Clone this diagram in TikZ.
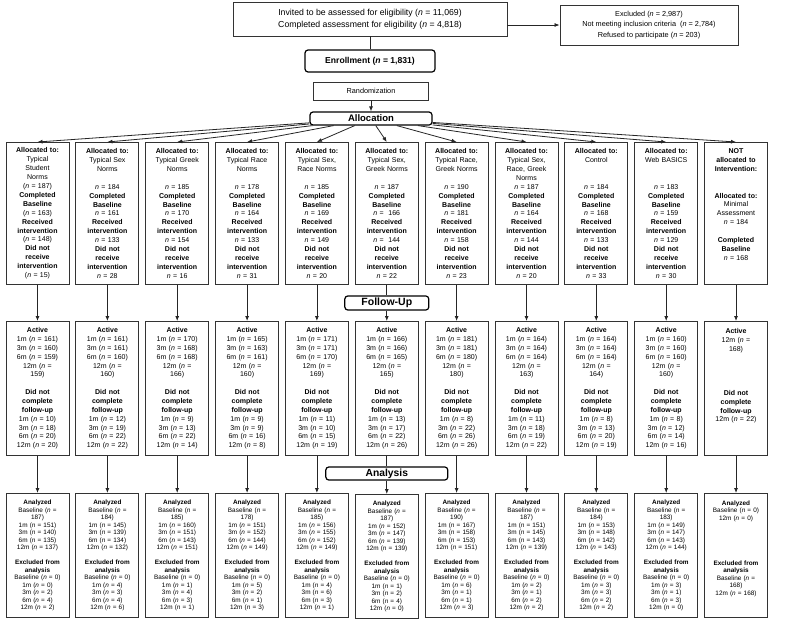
\documentclass[tikz,border=0pt]{standalone}
\usepackage{fontspec}
\setmainfont{Liberation Sans}
\usetikzlibrary{arrows.meta}
\newcommand{\nv}{\textit{n}}
\tikzset{
  cbox/.style={draw=black!80,line width=0.9pt,align=center,inner sep=1pt},
  stagebox/.style={draw=black,line width=1.2pt,rounded corners=3pt,align=center,inner sep=1pt},
  groupbox/.style={cbox,anchor=north,text width=61pt,minimum height=142pt,font=\fontsize{7}{8.9}\selectfont},
  followbox/.style={cbox,anchor=north,text width=61pt,minimum height=134pt,font=\fontsize{7}{8.85}\selectfont},
  resultbox/.style={cbox,anchor=north,text width=61pt,minimum height=124pt,font=\fontsize{6.4}{7.5}\selectfont},
  conn/.style={line width=0.8pt,draw=black!85},
}
\begin{document}
\begin{tikzpicture}[x=1pt,y=-1pt,>={Latex[length=5pt,width=4pt]}]
  \useasboundingbox[fill=white] (0,0) rectangle (800,624);
  \node[cbox,minimum width=274pt,minimum height=34pt,font=\fontsize{8.7}{12}\selectfont] (invite) at (370,19) {Invited to be assessed for eligibility (\nv{} = 11,069)\\Completed assessment for eligibility (\nv{} = 4,818)};
  \node[cbox,minimum width=178pt,minimum height=40pt,font=\fontsize{7.3}{10.5}\selectfont] (excl) at (649,25) {Excluded (\nv{} = 2,987)\\Not meeting inclusion criteria\ \ (\nv{} = 2,784)\\Refused to participate (\nv{} = 203)};
  \node[stagebox,minimum width=130pt,minimum height=22pt,font=\bfseries\fontsize{8.6}{10}\selectfont] (enrol) at (370,61) {Enrollment (\nv{} = 1,831)};
  \node[cbox,minimum width=115pt,minimum height=18pt,font=\fontsize{7.3}{9}\selectfont] (rand) at (371,91) {Randomization};
  \node[stagebox,minimum width=122pt,minimum height=13pt,font=\bfseries\fontsize{9.5}{10}\selectfont] (alloc) at (371,118.5) {Allocation};

  \node[groupbox] (a1) at (37.5,142) {\textbf{Allocated to:}\\Typical\\Student\\Norms\\(\nv{} = 187)\\\textbf{Completed}\\\textbf{Baseline}\\(\nv{} = 163)\\\textbf{Received}\\\textbf{intervention}\\(\nv{} = 148)\\\textbf{Did not}\\\textbf{receive}\\\textbf{intervention}\\(\nv{} = 15)};
  \node[groupbox] (a2) at (107.4,142) {\textbf{Allocated to:}\\Typical Sex\\Norms\\~\\\nv{} = 184\\\textbf{Completed}\\\textbf{Baseline}\\\nv{} = 161\\\textbf{Received}\\\textbf{intervention}\\\nv{} = 133\\\textbf{Did not}\\\textbf{receive}\\\textbf{intervention}\\\nv{} = 28};
  \node[groupbox] (a3) at (177.2,142) {\textbf{Allocated to:}\\Typical Greek\\Norms\\~\\\nv{} = 185\\\textbf{Completed}\\\textbf{Baseline}\\\nv{} = 170\\\textbf{Received}\\\textbf{intervention}\\\nv{} = 154\\\textbf{Did not}\\\textbf{receive}\\\textbf{intervention}\\\nv{} = 16};
  \node[groupbox] (a4) at (247.1,142) {\textbf{Allocated to:}\\Typical Race\\Norms\\~\\\nv{} = 178\\\textbf{Completed}\\\textbf{Baseline}\\\nv{} = 164\\\textbf{Received}\\\textbf{intervention}\\\nv{} = 133\\\textbf{Did not}\\\textbf{receive}\\\textbf{intervention}\\\nv{} = 31};
  \node[groupbox] (a5) at (316.9,142) {\textbf{Allocated to:}\\Typical Sex,\\Race Norms\\~\\\nv{} = 185\\\textbf{Completed}\\\textbf{Baseline}\\\nv{} = 169\\\textbf{Received}\\\textbf{intervention}\\\nv{} = 149\\\textbf{Did not}\\\textbf{receive}\\\textbf{intervention}\\\nv{} = 20};
  \node[groupbox] (a6) at (386.8,142) {\textbf{Allocated to:}\\Typical Sex,\\Greek Norms\\~\\\nv{} = 187\\\textbf{Completed}\\\textbf{Baseline}\\\nv{} = \ 166\\\textbf{Received}\\\textbf{intervention}\\\nv{} = \ 144\\\textbf{Did not}\\\textbf{receive}\\\textbf{intervention}\\\nv{} = 22};
  \node[groupbox] (a7) at (456.6,142) {\textbf{Allocated to:}\\Typical Race,\\Greek Norms\\~\\\nv{} = 190\\\textbf{Completed}\\\textbf{Baseline}\\\nv{} = 181\\\textbf{Received}\\\textbf{intervention}\\\nv{} = 158\\\textbf{Did not}\\\textbf{receive}\\\textbf{intervention}\\\nv{} = 23};
  \node[groupbox] (a8) at (526.5,142) {\textbf{Allocated to:}\\Typical Sex,\\Race, Greek\\Norms\\\nv{} = 187\\\textbf{Completed}\\\textbf{Baseline}\\\nv{} = 164\\\textbf{Received}\\\textbf{intervention}\\\nv{} = 144\\\textbf{Did not}\\\textbf{receive}\\\textbf{intervention}\\\nv{} = 20};
  \node[groupbox] (a9) at (596.3,142) {\textbf{Allocated to:}\\Control\\~\\~\\\nv{} = 184\\\textbf{Completed}\\\textbf{Baseline}\\\nv{} = 168\\\textbf{Received}\\\textbf{intervention}\\\nv{} = 133\\\textbf{Did not}\\\textbf{receive}\\\textbf{intervention}\\\nv{} = 33};
  \node[groupbox] (a10) at (666.2,142) {\textbf{Allocated to:}\\Web BASICS\\~\\~\\\nv{} = 183\\\textbf{Completed}\\\textbf{Baseline}\\\nv{} = 159\\\textbf{Received}\\\textbf{intervention}\\\nv{} = 129\\\textbf{Did not}\\\textbf{receive}\\\textbf{intervention}\\\nv{} = 30};
  \node[groupbox] (a11) at (736,142) {\textbf{NOT}\\\textbf{allocated to}\\\textbf{Intervention:}\\~\\~\\\textbf{Allocated to:}\\Minimal\\Assessment\\\nv{} = 184\\~\\\textbf{Completed}\\\textbf{Baseline}\\\nv{} = 168\\~\\~};

  \node[stagebox,minimum width=84pt,minimum height=14pt,font=\bfseries\fontsize{10.5}{11}\selectfont] (fu) at (386.8,303) {Follow-Up};

  \node[followbox] (f1) at (37.5,321) {\textbf{Active}\\1m (\nv{} = 161)\\3m (\nv{} = 160)\\6m (\nv{} = 159)\\12m (\nv{} =\\159)\\~\\\textbf{Did not}\\\textbf{complete}\\\textbf{follow-up}\\1m (\nv{} = 10)\\3m (\nv{} = 18)\\6m (\nv{} = 20)\\12m (\nv{} = 20)};
  \node[followbox] (f2) at (107.4,321) {\textbf{Active}\\1m (\nv{} = 161)\\3m (\nv{} = 161)\\6m (\nv{} = 160)\\12m (\nv{} =\\160)\\~\\\textbf{Did not}\\\textbf{complete}\\\textbf{follow-up}\\1m (\nv{} = 12)\\3m (\nv{} = 19)\\6m (\nv{} = 22)\\12m (\nv{} = 22)};
  \node[followbox] (f3) at (177.2,321) {\textbf{Active}\\1m (\nv{} = 170)\\3m (\nv{} = 168)\\6m (\nv{} = 168)\\12m (\nv{} =\\166)\\~\\\textbf{Did not}\\\textbf{complete}\\\textbf{follow-up}\\1m (\nv{} = 9)\\3m (\nv{} = 13)\\6m (\nv{} = 22)\\12m (\nv{} = 14)};
  \node[followbox] (f4) at (247.1,321) {\textbf{Active}\\1m (\nv{} = 165)\\3m (\nv{} = 163)\\6m (\nv{} = 161)\\12m (\nv{} =\\160)\\~\\\textbf{Did not}\\\textbf{complete}\\\textbf{follow-up}\\1m (\nv{} = 9)\\3m (\nv{} = 9)\\6m (\nv{} = 16)\\12m (\nv{} = 8)};
  \node[followbox] (f5) at (316.9,321) {\textbf{Active}\\1m (\nv{} = 171)\\3m (\nv{} = 171)\\6m (\nv{} = 170)\\12m (\nv{} =\\169)\\~\\\textbf{Did not}\\\textbf{complete}\\\textbf{follow-up}\\1m (\nv{} = 11)\\3m (\nv{} = 10)\\6m (\nv{} = 15)\\12m (\nv{} = 19)};
  \node[followbox] (f6) at (386.8,321) {\textbf{Active}\\1m (\nv{} = 166)\\3m (\nv{} = 166)\\6m (\nv{} = 165)\\12m (\nv{} =\\165)\\~\\\textbf{Did not}\\\textbf{complete}\\\textbf{follow-up}\\1m (\nv{} = 13)\\3m (\nv{} = 17)\\6m (\nv{} = 22)\\12m (\nv{} = 26)};
  \node[followbox] (f7) at (456.6,321) {\textbf{Active}\\1m (\nv{} = 181)\\3m (\nv{} = 181)\\6m (\nv{} = 180)\\12m (\nv{} =\\180)\\~\\\textbf{Did not}\\\textbf{complete}\\\textbf{follow-up}\\1m (\nv{} = 8)\\3m (\nv{} = 22)\\6m (\nv{} = 26)\\12m (\nv{} = 26)};
  \node[followbox] (f8) at (526.5,321) {\textbf{Active}\\1m (\nv{} = 164)\\3m (\nv{} = 164)\\6m (\nv{} = 164)\\12m (\nv{} =\\163)\\~\\\textbf{Did not}\\\textbf{complete}\\\textbf{follow-up}\\1m (\nv{} = 11)\\3m (\nv{} = 18)\\6m (\nv{} = 19)\\12m (\nv{} = 22)};
  \node[followbox] (f9) at (596.3,321) {\textbf{Active}\\1m (\nv{} = 164)\\3m (\nv{} = 164)\\6m (\nv{} = 164)\\12m (\nv{} =\\164)\\~\\\textbf{Did not}\\\textbf{complete}\\\textbf{follow-up}\\1m (\nv{} = 8)\\3m (\nv{} = 13)\\6m (\nv{} = 20)\\12m (\nv{} = 19)};
  \node[followbox] (f10) at (666.2,321) {\textbf{Active}\\1m (\nv{} = 160)\\3m (\nv{} = 160)\\6m (\nv{} = 160)\\12m (\nv{} =\\160)\\~\\\textbf{Did not}\\\textbf{complete}\\\textbf{follow-up}\\1m (\nv{} = 8)\\3m (\nv{} = 12)\\6m (\nv{} = 14)\\12m (\nv{} = 16)};
  \node[followbox] (f11) at (736,321) {\textbf{Active}\\12m (\nv{} =\\168)\\~\\~\\~\\~\\\textbf{Did not}\\\textbf{complete}\\\textbf{follow-up}\\12m (\nv{} = 22)\\~\\~\\~};

  \node[stagebox,minimum width=122pt,minimum height=13pt,font=\bfseries\fontsize{10.3}{11}\selectfont] (an) at (386.8,473.5) {Analysis};

  \node[resultbox] (n1) at (37.5,493) {\textbf{Analyzed}\\Baseline (\nv{} =\\187)\\1m (\nv{} = 151)\\3m (\nv{} = 140)\\6m (\nv{} = 135)\\12m (\nv{} = 137)\\~\\\textbf{Excluded from}\\\textbf{analysis}\\Baseline (\nv{} = 0)\\1m (\nv{} = 0)\\3m (\nv{} = 2)\\6m (\nv{} = 4)\\12m (\nv{} = 2)};
  \node[resultbox] (n2) at (107.4,493) {\textbf{Analyzed}\\Baseline (\nv{} =\\184)\\1m (\nv{} = 145)\\3m (\nv{} = 139)\\6m (\nv{} = 134)\\12m (\nv{} = 132)\\~\\\textbf{Excluded from}\\\textbf{analysis}\\Baseline (\nv{} = 0)\\1m (\nv{} = 4)\\3m (\nv{} = 3)\\6m (\nv{} = 4)\\12m (\nv{} = 6)};
  \node[resultbox] (n3) at (177.2,493) {\textbf{Analyzed}\\Baseline (\nv{} =\\185)\\1m (\nv{} = 160)\\3m (\nv{} = 151)\\6m (\nv{} = 143)\\12m (\nv{} = 151)\\~\\\textbf{Excluded from}\\\textbf{analysis}\\Baseline (\nv{} = 0)\\1m (\nv{} = 1)\\3m (\nv{} = 4)\\6m (\nv{} = 3)\\12m (\nv{} = 1)};
  \node[resultbox] (n4) at (247.1,493) {\textbf{Analyzed}\\Baseline (\nv{} =\\178)\\1m (\nv{} = 151)\\3m (\nv{} = 152)\\6m (\nv{} = 144)\\12m (\nv{} = 149)\\~\\\textbf{Excluded from}\\\textbf{analysis}\\Baseline (\nv{} = 0)\\1m (\nv{} = 5)\\3m (\nv{} = 2)\\6m (\nv{} = 1)\\12m (\nv{} = 3)};
  \node[resultbox] (n5) at (316.9,493) {\textbf{Analyzed}\\Baseline (\nv{} =\\185)\\1m (\nv{} = 156)\\3m (\nv{} = 155)\\6m (\nv{} = 152)\\12m (\nv{} = 149)\\~\\\textbf{Excluded from}\\\textbf{analysis}\\Baseline (\nv{} = 0)\\1m (\nv{} = 4)\\3m (\nv{} = 6)\\6m (\nv{} = 3)\\12m (\nv{} = 1)};
  \node[resultbox] (n6) at (386.8,494) {\textbf{Analyzed}\\Baseline (\nv{} =\\187)\\1m (\nv{} = 152)\\3m (\nv{} = 147)\\6m (\nv{} = 139)\\12m (\nv{} = 139)\\~\\\textbf{Excluded from}\\\textbf{analysis}\\Baseline (\nv{} = 0)\\1m (\nv{} = 1)\\3m (\nv{} = 2)\\6m (\nv{} = 4)\\12m (\nv{} = 0)};
  \node[resultbox] (n7) at (456.6,493) {\textbf{Analyzed}\\Baseline (\nv{} =\\190)\\1m (\nv{} = 167)\\3m (\nv{} = 158)\\6m (\nv{} = 153)\\12m (\nv{} = 151)\\~\\\textbf{Excluded from}\\\textbf{analysis}\\Baseline (\nv{} = 0)\\1m (\nv{} = 6)\\3m (\nv{} = 1)\\6m (\nv{} = 1)\\12m (\nv{} = 3)};
  \node[resultbox] (n8) at (526.5,493) {\textbf{Analyzed}\\Baseline (\nv{} =\\187)\\1m (\nv{} = 151)\\3m (\nv{} = 145)\\6m (\nv{} = 143)\\12m (\nv{} = 139)\\~\\\textbf{Excluded from}\\\textbf{analysis}\\Baseline (\nv{} = 0)\\1m (\nv{} = 2)\\3m (\nv{} = 1)\\6m (\nv{} = 2)\\12m (\nv{} = 2)};
  \node[resultbox] (n9) at (596.3,493) {\textbf{Analyzed}\\Baseline (\nv{} =\\184)\\1m (\nv{} = 153)\\3m (\nv{} = 148)\\6m (\nv{} = 142)\\12m (\nv{} = 143)\\~\\\textbf{Excluded from}\\\textbf{analysis}\\Baseline (\nv{} = 0)\\1m (\nv{} = 3)\\3m (\nv{} = 3)\\6m (\nv{} = 2)\\12m (\nv{} = 2)};
  \node[resultbox] (n10) at (666.2,493) {\textbf{Analyzed}\\Baseline (\nv{} =\\183)\\1m (\nv{} = 149)\\3m (\nv{} = 147)\\6m (\nv{} = 143)\\12m (\nv{} = 144)\\~\\\textbf{Excluded from}\\\textbf{analysis}\\Baseline (\nv{} = 0)\\1m (\nv{} = 3)\\3m (\nv{} = 1)\\6m (\nv{} = 3)\\12m (\nv{} = 0)};
  \node[resultbox] (n11) at (736,493) {\textbf{Analyzed}\\Baseline (\nv{} = 0)\\12m (\nv{} = 0)\\~\\~\\~\\~\\~\\\textbf{Excluded from}\\\textbf{analysis}\\Baseline (\nv{} =\\168)\\12m (\nv{} = 168)\\~\\~};

  \draw[conn] (invite) -- (enrol);
  \draw[conn,->] (invite.east |- excl) -- (excl);
  \draw[conn,->] (rand) -- (alloc);
  \foreach \i in {1,...,11}
    \draw[conn,->] (alloc) -- (a\i.north);
  \foreach \i in {1,2,3,4,5,7,8,9,10,11} {
    \draw[conn,->] (a\i) -- (f\i);
    \draw[conn,->] (f\i) -- (n\i);
  }
  \draw[conn] (a6) -- (fu);
  \draw[conn,->] (fu) -- (f6);
  \draw[conn] (f6) -- (an);
  \draw[conn,->] (an) -- (n6);
\end{tikzpicture}
\end{document}
